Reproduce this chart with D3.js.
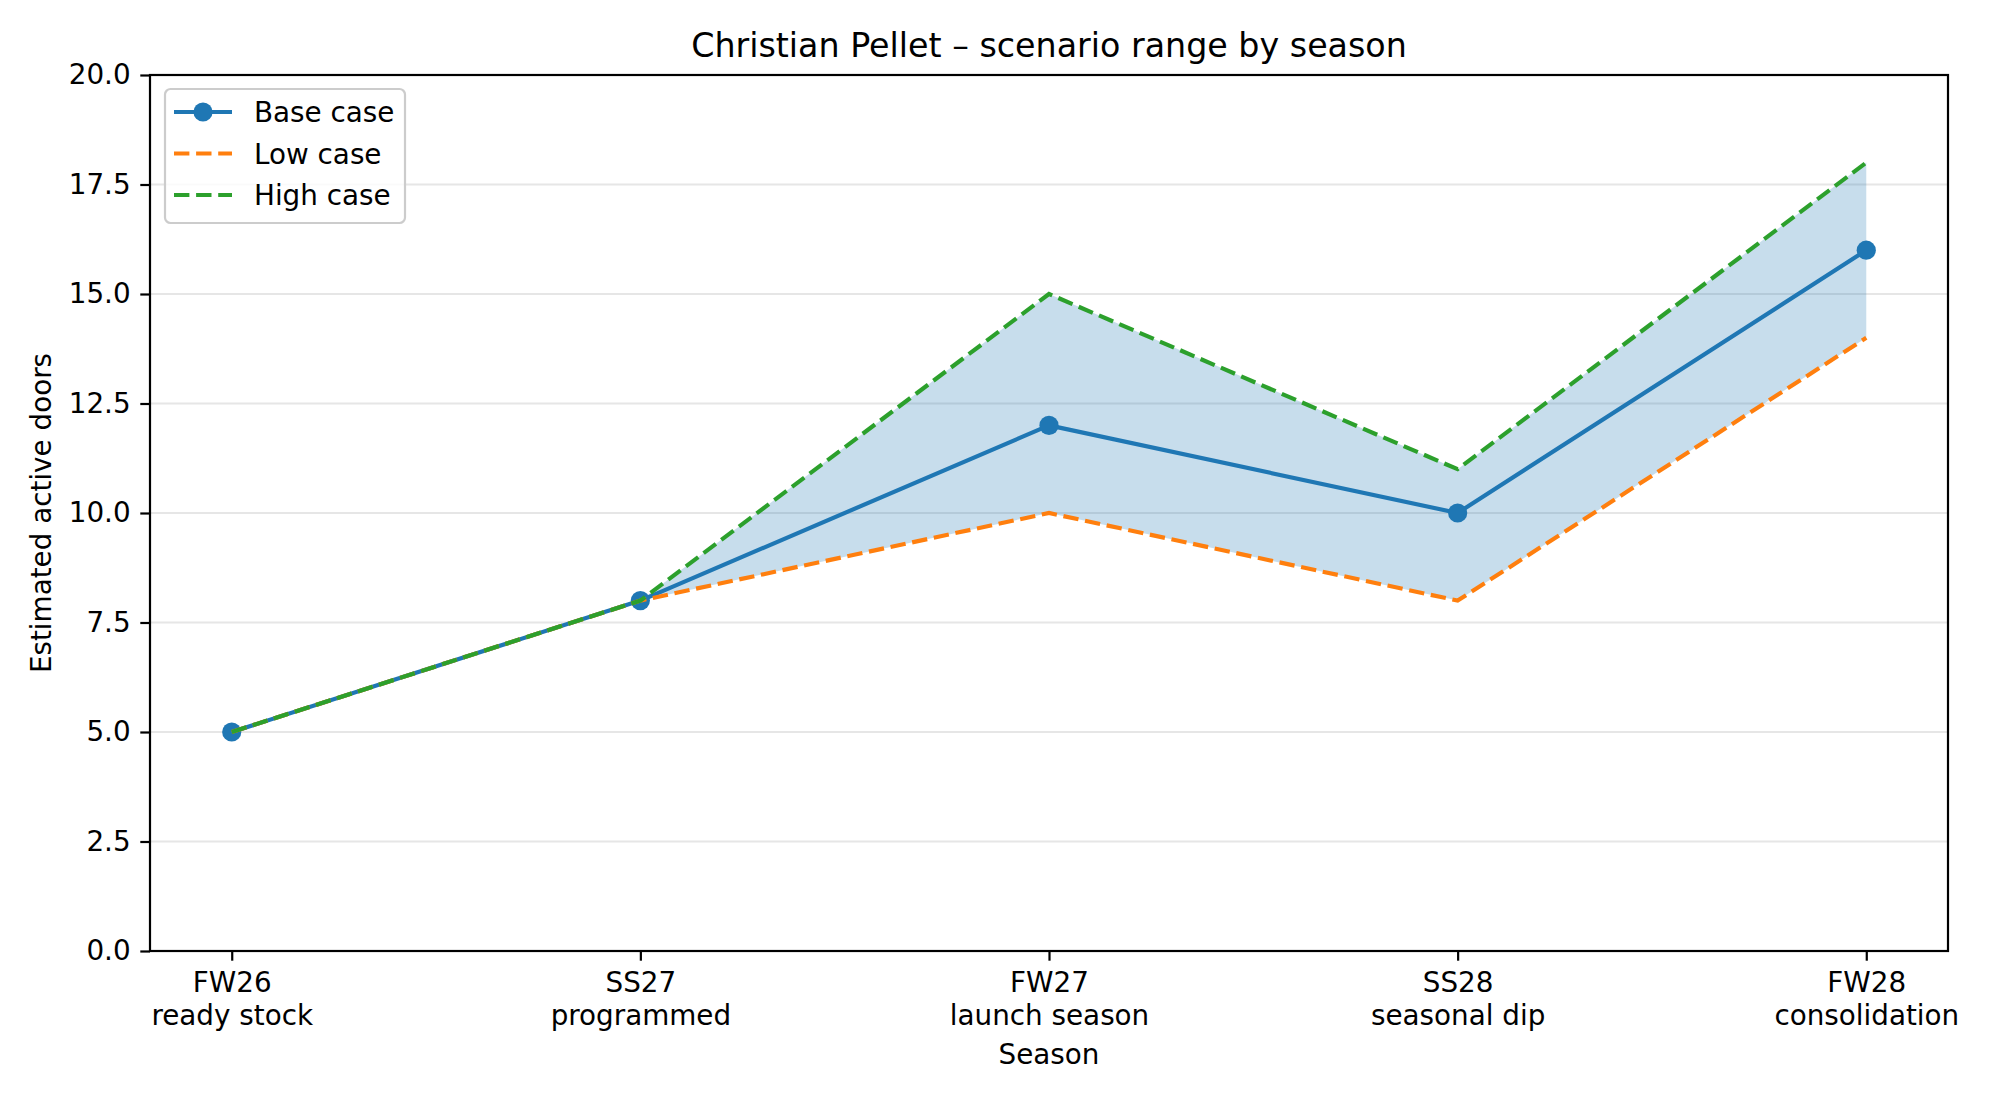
<!DOCTYPE html>
<html>
<head>
<meta charset="utf-8">
<script src="https://cdn.jsdelivr.net/npm/d3@7"></script>
<style>
  body { margin: 0; background: #fff; }
  text { font-family: "DejaVu Sans", sans-serif; fill: #000; }
</style>
</head>
<body>
<div id="chart"></div>
<script>
// chart values
let seasons = ["FW26", "SS27", "FW27", "SS28", "FW28"];
let seasonNotes = ["ready stock", "programmed", "launch season", "seasonal dip", "consolidation"];
let baseCase = [5, 8, 12, 10, 16];
let lowCase = [5, 8, 10, 8, 14];
let highCase = [5, 8, 15, 11, 18];
let yTicks = [0, 2.5, 5, 7.5, 10, 12.5, 15, 17.5, 20];

let blue = "#1f77b4", orange = "#ff7f0e", green = "#2ca02c";

function main(){
    let width = 2000, height = 1100;
    let left = 150, right = 1948, top = 75, bottom = 951;

    let svg = d3.select("#chart").append("svg")
        .attr("width", width)
        .attr("height", height);

    svg.append("rect").attr("width", width).attr("height", height).attr("fill", "#fff");

    // matplotlib style 5% padding on x
    let xScale = d3.scaleLinear().domain([-0.2, seasons.length - 1 + 0.2]).range([left, right]);
    let yScale = d3.scaleLinear().domain([0, 20]).range([bottom, top]);

    // grid
    svg.append("g")
        .selectAll("line")
        .data(yTicks)
        .enter()
        .append("line")
        .attr("x1", left).attr("x2", right)
        .attr("y1", d => yScale(d)).attr("y2", d => yScale(d))
        .attr("stroke", "#e6e6e6")
        .attr("stroke-width", 2.2);

    // band between low and high
    let area = d3.area()
        .x((d, i) => xScale(i))
        .y0((d, i) => yScale(lowCase[i]))
        .y1((d, i) => yScale(highCase[i]));

    svg.append("path")
        .attr("d", area(seasons))
        .attr("fill", blue)
        .attr("fill-opacity", 0.25)
        .attr("stroke", "none");

    let line = d3.line()
        .x((d, i) => xScale(i))
        .y(d => yScale(d));

    svg.append("path")
        .attr("d", line(baseCase))
        .attr("fill", "none")
        .attr("stroke", blue)
        .attr("stroke-width", 4.17)
        .attr("stroke-linejoin", "round");

    svg.append("g")
        .selectAll("circle")
        .data(baseCase)
        .enter()
        .append("circle")
        .attr("cx", (d, i) => xScale(i))
        .attr("cy", d => yScale(d))
        .attr("r", 9.6)
        .attr("fill", blue);

    svg.append("path")
        .attr("d", line(lowCase))
        .attr("fill", "none")
        .attr("stroke", orange)
        .attr("stroke-width", 4.17)
        .attr("stroke-dasharray", "15.4,6.7");

    svg.append("path")
        .attr("d", line(highCase))
        .attr("fill", "none")
        .attr("stroke", green)
        .attr("stroke-width", 4.17)
        .attr("stroke-dasharray", "15.4,6.7");

    // axes
    let yAxis = svg.append("g")
        .attr("transform", "translate(" + left + ",0)")
        .call(d3.axisLeft(yScale).tickValues(yTicks).tickFormat(d3.format(".1f")).tickSizeInner(9.7).tickSizeOuter(0).tickPadding(9.7));
    yAxis.select(".domain").remove();
    yAxis.selectAll("line").attr("stroke", "#000").attr("stroke-width", 2.2);
    yAxis.selectAll("text").attr("font-size", 27.8).attr("font-family", "DejaVu Sans");

    let xAxis = svg.append("g")
        .attr("transform", "translate(0," + bottom + ")")
        .call(d3.axisBottom(xScale).tickValues(d3.range(seasons.length)).tickFormat("").tickSizeInner(9.7).tickSizeOuter(0));
    xAxis.select(".domain").remove();
    xAxis.selectAll("line").attr("stroke", "#000").attr("stroke-width", 2.2);
    xAxis.selectAll(".tick").each(function(d){
        let t = d3.select(this).append("text")
            .attr("text-anchor", "middle")
            .attr("font-size", 27.8)
            .attr("font-family", "DejaVu Sans")
            .attr("fill", "#000");
        t.append("tspan").attr("x", 0).attr("y", 41).text(seasons[d]);
        t.append("tspan").attr("x", 0).attr("y", 74).text(seasonNotes[d]);
    });

    // frame
    svg.append("rect")
        .attr("x", left).attr("y", top)
        .attr("width", right - left).attr("height", bottom - top)
        .attr("fill", "none")
        .attr("stroke", "#000")
        .attr("stroke-width", 2.2);

    // labels
    svg.append("text")
        .attr("x", (left + right) / 2).attr("y", 57)
        .attr("text-anchor", "middle")
        .attr("font-size", 33.3)
        .text("Christian Pellet \u2013 scenario range by season");

    svg.append("text")
        .attr("x", (left + right) / 2).attr("y", 1064)
        .attr("text-anchor", "middle")
        .attr("font-size", 27.8)
        .text("Season");

    svg.append("text")
        .attr("transform", "translate(51," + (top + bottom) / 2 + ") rotate(-90)")
        .attr("text-anchor", "middle")
        .attr("font-size", 27.8)
        .text("Estimated active doors");

    // legend
    let legend = svg.append("g");
    legend.append("rect")
        .attr("x", 165).attr("y", 89)
        .attr("width", 240).attr("height", 134)
        .attr("rx", 5.6)
        .attr("fill", "#fff").attr("fill-opacity", 0.8)
        .attr("stroke", "#cccccc").attr("stroke-width", 2.2);

    let items = [
        {name: "Base case", color: blue, dash: null, marker: true},
        {name: "Low case", color: orange, dash: "15.4,6.7", marker: false},
        {name: "High case", color: green, dash: "15.4,6.7", marker: false}
    ];
    items.forEach(function(it, i){
        let y = 112 + i * 41.5;
        legend.append("line")
            .attr("x1", 174).attr("x2", 232)
            .attr("y1", y).attr("y2", y)
            .attr("stroke", it.color)
            .attr("stroke-width", 4.17)
            .attr("stroke-dasharray", it.dash);
        if (it.marker) {
            legend.append("circle").attr("cx", 203).attr("cy", y).attr("r", 9.6).attr("fill", it.color);
        }
        legend.append("text")
            .attr("x", 254).attr("y", y + 10)
            .attr("font-size", 27.8)
            .text(it.name);
    });
}

main();
</script>
</body>
</html>
